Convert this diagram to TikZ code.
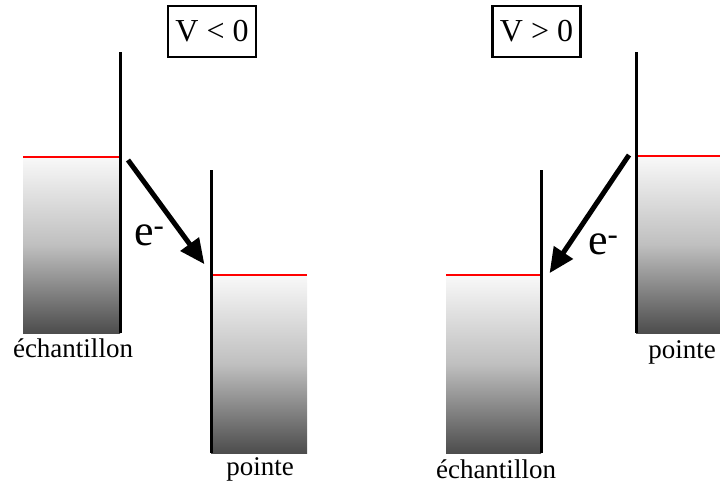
\documentclass[tikz,border=0pt]{standalone}
\usepackage{fontspec}
\setmainfont{Liberation Serif}
\usetikzlibrary{arrows.meta}
\tikzset{
  wall/.style={line width=3pt, black},
  fermi/.style={line width=2.6pt, red},
  band/.style={top color=gray!5, bottom color=black!70, middle color=gray!50},
  flow/.style={line width=5pt, -{Triangle[length=25pt,width=22pt]}, shorten >=1pt},
  vbox/.style={draw, line width=2.2pt, inner sep=0pt, minimum width=88pt, minimum height=51pt, font=\fontsize{32}{34}\selectfont},
  lab/.style={anchor=base, inner sep=0pt, font=\fontsize{27}{30}\selectfont},
  elec/.style={anchor=base west, inner sep=0pt, font=\fontsize{44}{46}\selectfont}
}
\begin{document}
\begin{tikzpicture}[x=1pt,y=-1pt]
\useasboundingbox (0,0) rectangle (720,485);
% ---------- left panel: V < 0 ----------
\node[vbox] (vneg) at (212,31.5) {V < 0};
\shade[band] (23,157) rectangle (120,333);
\shade[band] (211,275) rectangle (307,453);
\coordinate (s1top) at (120,52);
\coordinate (s1bot) at (120,333);
\coordinate (s1f) at (23,157);
\coordinate (s1fe) at (120,157);
\coordinate (p1top) at (211,170);
\coordinate (p1bot) at (211,453);
\coordinate (p1f) at (211,275);
\coordinate (p1fe) at (307,275);
\draw[fermi] (s1f) -- (s1fe);
\draw[fermi] (p1f) -- (p1fe);
\draw[wall] (s1top) -- (s1bot);
\draw[wall] (p1top) -- (p1bot);
\coordinate (a1s) at (128,160);
\coordinate (a1e) at (205,265);
\draw[flow] (a1s) -- (a1e);
\node[elec] (e1) at (134,245) {e\textsuperscript{-}};
\node[lab] (ech1) at (73,357) {échantillon};
\node[lab] (pt1) at (260,475) {pointe};
% ---------- right panel: V > 0 ----------
\node[vbox] (vpos) at (536.5,31.5) {V > 0};
\shade[band] (446,275) rectangle (541,453);
\shade[band] (636,156) rectangle (720,333);
\coordinate (s2top) at (541,170);
\coordinate (s2bot) at (541,453);
\coordinate (s2f) at (446,275);
\coordinate (s2fe) at (541,275);
\coordinate (p2top) at (636,52);
\coordinate (p2bot) at (636,333);
\coordinate (p2f) at (636,156);
\coordinate (p2fe) at (720,156);
\draw[fermi] (s2f) -- (s2fe);
\draw[fermi] (p2f) -- (p2fe);
\draw[wall] (s2top) -- (s2bot);
\draw[wall] (p2top) -- (p2bot);
\coordinate (a2s) at (629,155);
\coordinate (a2e) at (549,274);
\draw[flow] (a2s) -- (a2e);
\node[elec] (e2) at (588,254) {e\textsuperscript{-}};
\node[lab] (ech2) at (496,478) {échantillon};
\node[lab] (pt2) at (682,358) {pointe};
\end{tikzpicture}
\end{document}
